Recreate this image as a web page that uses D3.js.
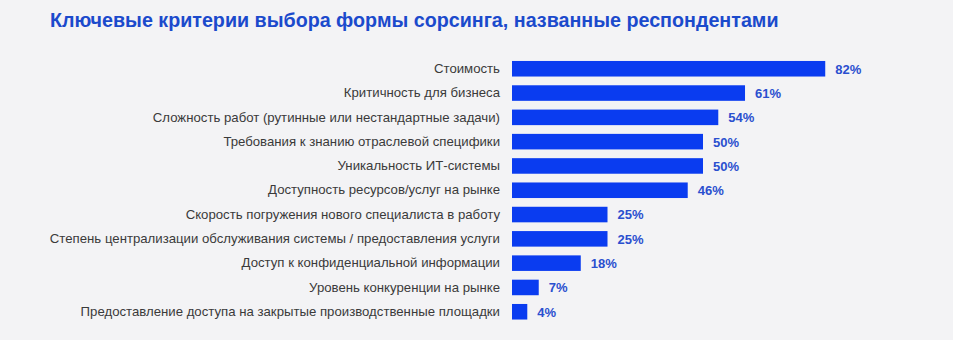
<!DOCTYPE html>
<html><head><meta charset="utf-8">
<script src="https://cdn.jsdelivr.net/npm/d3@7"></script>
<style>html,body{margin:0;padding:0;background:#f3f3f5;}svg{display:block;}</style>
</head><body>
<svg id="c" width="953" height="340"></svg>
<script>
const titleText = "Ключевые критерии выбора формы сорсинга, названные респондентами";
const categories = [
  "Стоимость",
  "Критичность для бизнеса",
  "Сложность работ (рутинные или нестандартные задачи)",
  "Требования к знанию отраслевой специфики",
  "Уникальность ИТ-системы",
  "Доступность ресурсов/услуг на рынке",
  "Скорость погружения нового специалиста в работу",
  "Степень централизации обслуживания системы / предоставления услуги",
  "Доступ к конфиденциальной информации",
  "Уровень конкуренции на рынке",
  "Предоставление доступа на закрытые производственные площадки"
];
const values = [82, 61, 54, 50, 50, 46, 25, 25, 18, 7, 4];

const svg = d3.select("#c");
svg.append("rect").attr("width",953).attr("height",340).attr("fill","#f3f3f5");

svg.append("text").attr("x",50).attr("y",27)
  .attr("font-family","Liberation Sans, Arial, sans-serif").attr("font-weight","bold")
  .attr("font-size",19.7).attr("fill","#1b4acc").text(titleText);

const x = d3.scaleLinear().domain([0,100]).range([512, 512+382]);
const y = d3.scaleBand().domain(categories).range([56.6, 56.6+24.3*11]).paddingInner(0.36).paddingOuter(0.18);

const g = svg.append("g");
g.selectAll("rect.bar").data(values).join("rect").attr("class","bar")
  .attr("x", x(0)).attr("y",(d,i)=>y(categories[i]))
  .attr("width", d=>x(d)-x(0)).attr("height", y.bandwidth())
  .attr("fill","#0a3cf0");

g.selectAll("text.val").data(values).join("text").attr("class","val")
  .attr("x", d=>x(d)+10).attr("y",(d,i)=>y(categories[i])+y.bandwidth()/2)
  .attr("dy","0.38em").attr("font-family","Liberation Sans, Arial, sans-serif")
  .attr("font-weight","bold").attr("font-size",13).attr("fill","#2a4fcf")
  .text(d=>d+"%");

const yAxis = d3.axisLeft(y).tickSize(0).tickPadding(0);
const ag = svg.append("g").attr("transform","translate(500,0)").call(yAxis);
ag.select(".domain").remove();
ag.selectAll("text").attr("font-family","Liberation Sans, Arial, sans-serif")
  .attr("font-size",13.2).attr("fill","#3a3a3a");
</script>
</body></html>
